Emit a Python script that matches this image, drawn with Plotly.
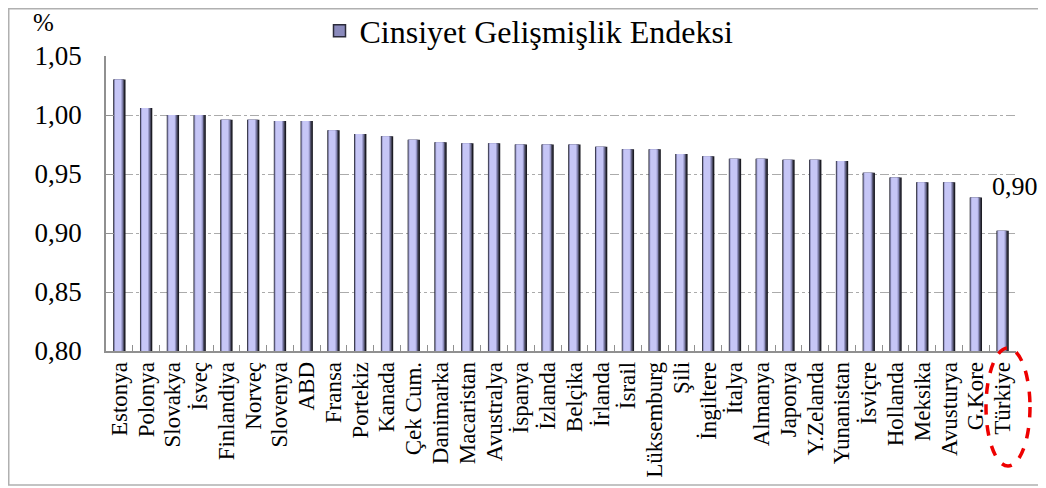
import plotly.graph_objects as go

countries = ["Estonya", "Polonya", "Slovakya", "İsveç", "Finlandiya", "Norveç", "Slovenya", "ABD",
             "Fransa", "Portekiz", "Kanada", "Çek Cum.", "Danimarka", "Macaristan", "Avustralya",
             "İspanya", "İzlanda", "Belçika", "İrlanda", "İsrail", "Lüksemburg", "Şili", "İngiltere",
             "İtalya", "Almanya", "Japonya", "Y.Zelanda", "Yunanistan", "İsviçre", "Hollanda",
             "Meksika", "Avusturya", "G.Kore", "Türkiye"]
gdi = [1.030, 1.006, 1.000, 1.000, 0.996, 0.996, 0.995, 0.995,
       0.987, 0.984, 0.982, 0.979, 0.977, 0.976, 0.976,
       0.975, 0.975, 0.975, 0.973, 0.971, 0.971, 0.967, 0.965,
       0.963, 0.963, 0.962, 0.962, 0.961, 0.951, 0.947,
       0.943, 0.943, 0.930, 0.902]
series_name = "Cinsiyet Gelişmişlik Endeksi"
y_ticks = [0.80, 0.85, 0.90, 0.95, 1.00, 1.05]

FONT = "Liberation Serif, Times New Roman, serif"

# page body has an 8px margin; figure is sized/offset to compensate
OFF = 8
W, H = 1046 - OFF, 488 - OFF
L, T = 106 - OFF, 56 - OFF
R = W - (1016 - OFF)
B = H - (351 - OFF)
PW, PH = W - L - R, H - T - B


def px(xs):
    return (xs - OFF - L) / PW


def py(ys):
    return (H - B - (ys - OFF)) / PH


fig = go.Figure()
# layered bars to mimic the cylindrical gradient look
layers = [
    ("#1c1c24", -0.23, 0.46),
    ("#50506a", -0.215, 0.39),
    ("#9494c4", -0.195, 0.32),
    ("#c6c6f6", -0.165, 0.24),
]
for color, off, w in layers:
    fig.add_trace(go.Bar(
        x=countries, y=gdi, base=0,
        marker=dict(color=color, line=dict(width=0)),
        offset=off, width=w, showlegend=False, hoverinfo="skip",
    ))
# legend entry
fig.add_trace(go.Bar(
    x=[countries[0]], y=[None], name=series_name,
    marker=dict(color="#8a8abc", line=dict(color="#2a2a3a", width=1.5)),
    showlegend=True,
))

fig.update_layout(
    width=W, height=H,
    barmode="overlay",
    separators=", ",
    paper_bgcolor="white", plot_bgcolor="white",
    margin=dict(l=L, r=R, t=T, b=B, autoexpand=False),
    font=dict(family=FONT, color="black"),
    showlegend=True,
    legend=dict(
        orientation="h", xref="container", yref="container",
        x=(529 - OFF) / W, xanchor="center", y=1 - (31 - OFF) / H, yanchor="middle",
        font=dict(size=32, family=FONT), bgcolor="rgba(0,0,0,0)",
        itemwidth=30,
    ),
    xaxis=dict(
        type="category", tickangle=-90, tickfont=dict(size=23, family=FONT),
        tickmode="array", tickvals=countries, ticktext=countries,
        showline=True, linecolor="#909090", linewidth=1.5,
        ticks="inside", ticklen=6, tickcolor="#909090", tickson="boundaries",
        showgrid=False, range=[-0.5, len(countries) - 0.5], automargin=False,
    ),
    yaxis=dict(
        range=[0.80, 1.05], tickvals=y_ticks, tickformat=".2f",
        tickfont=dict(size=27, family=FONT),
        showline=True, linecolor="#909090", linewidth=1.5,
        ticks="inside", ticklen=8, tickcolor="#909090",
        showgrid=True, gridcolor="#ababab", griddash="dashdot", gridwidth=1,
        zeroline=False, ticklabelstandoff=17, automargin=False,
    ),
)

# outer chart border
fig.add_shape(type="rect", xref="paper", yref="paper",
              x0=px(8.75), x1=px(1041), y0=py(485), y1=py(8.75),
              line=dict(color="#b0b0b0", width=1.5), fillcolor="rgba(0,0,0,0)", layer="below")

# unit label
fig.add_annotation(text="%", xref="paper", yref="paper",
                   x=px(43), y=py(23), showarrow=False,
                   font=dict(size=25, family=FONT), xanchor="center", yanchor="middle")
# value label for Türkiye
fig.add_annotation(text=f"{gdi[-1]:.2f}".replace(".", ","), x=countries[-1], y=gdi[-1],
                   xref="x", yref="y", showarrow=False, yshift=44, xshift=12,
                   font=dict(size=26, family=FONT), xanchor="center", yanchor="middle")
# red dashed ellipse around Türkiye label
fig.add_shape(type="circle", xref="paper", yref="paper",
              x0=px(986), x1=px(1030), y0=py(466), y1=py(348),
              line=dict(color="#ee0000", width=3.5, dash="dash"))

fig.write_html("out.html")
